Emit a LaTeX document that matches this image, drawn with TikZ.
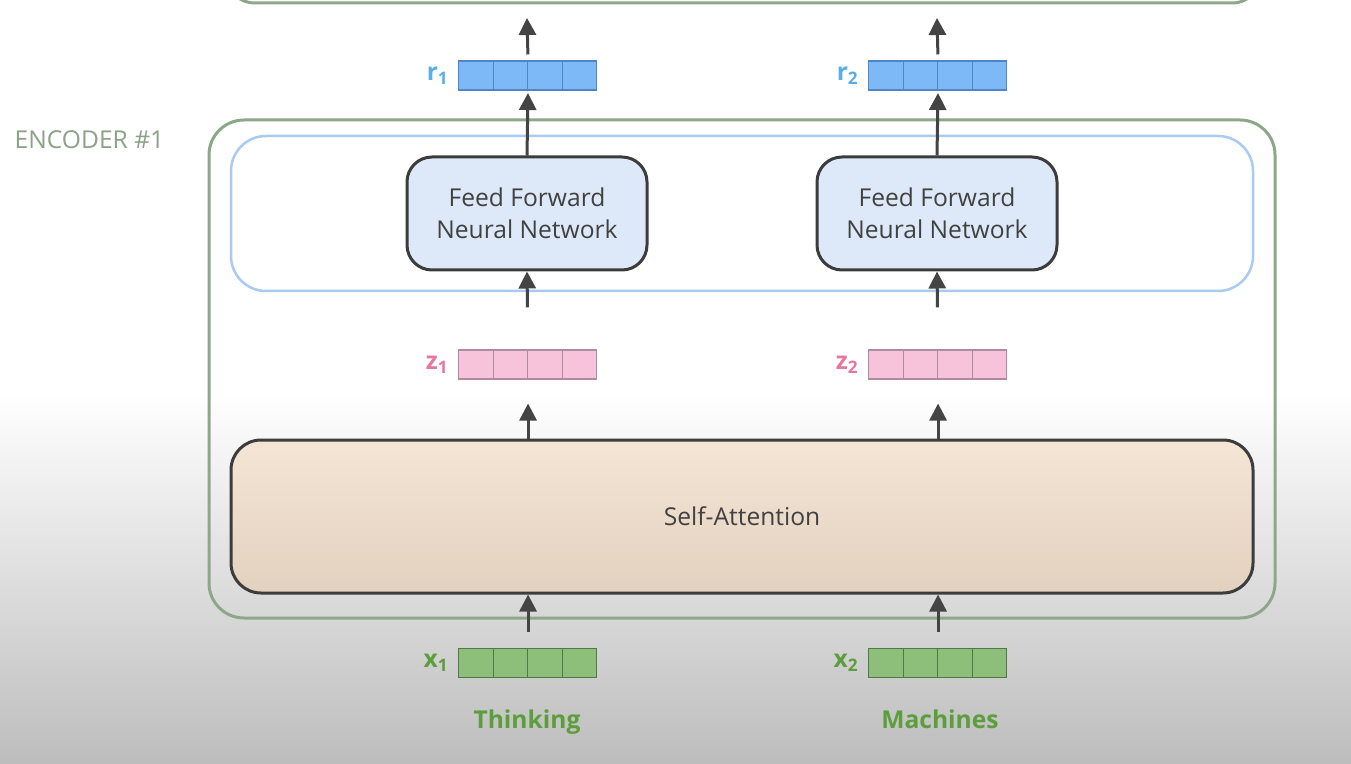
\documentclass[tikz,border=0pt]{standalone}
\usepackage{fontspec}
\setmainfont{Open Sans}
\usetikzlibrary{arrows.meta,positioning}
\definecolor{encgreen}{HTML}{8DA888}
\definecolor{ffnblue}{HTML}{A9CBF2}
\definecolor{ffnfill}{HTML}{DDE9F8}
\definecolor{boxdark}{HTML}{3C3C3C}
\definecolor{satop}{HTML}{F4E5D5}
\definecolor{sabot}{HTML}{E3D1BF}
\definecolor{arrowgray}{HTML}{444444}
\definecolor{textgray}{HTML}{414141}
\definecolor{bggray}{HTML}{BDBDBD}
\definecolor{rfill}{HTML}{7CB9F6}
\definecolor{rdraw}{HTML}{4F86C6}
\definecolor{rtext}{HTML}{5AAEE8}
\definecolor{zfill}{HTML}{F7C3DB}
\definecolor{zdraw}{HTML}{B08AA0}
\definecolor{ztext}{HTML}{E8779F}
\definecolor{xfill}{HTML}{8DBF7A}
\definecolor{xdraw}{HTML}{4F7A45}
\definecolor{xtext}{HTML}{5C9E3C}
\tikzset{
  cell/.style={draw, minimum width=6.9mm, minimum height=5.8mm,
               inner sep=0pt, anchor=west, line width=0.6pt},
  rcell/.style={cell, fill=rfill, draw=rdraw},
  zcell/.style={cell, fill=zfill, draw=zdraw},
  xcell/.style={cell, fill=xfill, draw=xdraw},
  veclabel/.style={inner sep=0pt, font=\fontsize{14}{17}\selectfont\bfseries},
  ffnbox/.style={draw=boxdark, fill=ffnfill, line width=0.06cm, rounded corners=0.5cm,
                 minimum width=4.8cm, minimum height=2.26cm, align=center,
                 text=textgray, font=\fontsize{14}{18}\selectfont},
  word/.style={text=xtext, anchor=base, font=\fontsize{14}{17}\selectfont\bfseries},
  flow/.style={-{Triangle[width=0.34cm,length=0.34cm]}, line width=0.06cm, draw=arrowgray},
}

\begin{document}
\begin{tikzpicture}
    \path[use as bounding box, clip] (0,0) rectangle (27.02,15.26);
    % screen background
    \fill[white] (0,0) rectangle (27.02,15.26);
    \shade[top color=white, bottom color=bggray] (0,0) rectangle (27.02,7.4);
    % next encoder (cut off at the top)
    \draw[encgreen, line width=0.06cm, rounded corners=0.6cm] (4.5,15.2) rectangle (25.24,17.0);
    % encoder frame
    \draw[encgreen, line width=0.06cm, rounded corners=0.7cm] (4.18,2.9) rectangle (25.5,12.86);
    \node[text=encgreen!85!gray, font=\fontsize{14}{17}\selectfont] (enclab) at (1.79,12.46) {ENCODER \#1};
    \draw[ffnblue, line width=0.05cm, rounded corners=0.7cm] (4.62,9.44) rectangle (25.06,12.54);
    % boxes
    \node[ffnbox] (ffn1) at (10.54,10.99) {Feed Forward\\Neural Network};
    \node[ffnbox] (ffn2) at (18.74,10.99) {Feed Forward\\Neural Network};
    \node[draw=boxdark, top color=satop, bottom color=sabot, line width=0.06cm,
          rounded corners=0.6cm, minimum width=20.44cm, minimum height=3.06cm,
          text=textgray, font=\fontsize{14}{17}\selectfont] (sa) at (14.84,4.93) {Self-Attention};
    % vectors
    \foreach \n/\s/\x/\y in {r1/rcell/9.16/13.75, r2/rcell/17.36/13.75,
                             z1/zcell/9.16/7.97, z2/zcell/17.36/7.97,
                             x1/xcell/9.16/2.0, x2/xcell/17.36/2.0} {
      \foreach \k in {0,...,3}
        \node[\s] (\n c\k) at ({\x+\k*0.69},\y) {};
    }
    \node[veclabel, text=rtext, left=0.18cm of r1c0] (r1lab) {r\textsubscript{1}};
    \node[veclabel, text=rtext, left=0.18cm of r2c0] (r2lab) {r\textsubscript{2}};
    \node[veclabel, text=ztext, left=0.18cm of z1c0] (z1lab) {z\textsubscript{1}};
    \node[veclabel, text=ztext, left=0.18cm of z2c0] (z2lab) {z\textsubscript{2}};
    \node[veclabel, text=xtext, left=0.18cm of x1c0] (x1lab) {x\textsubscript{1}};
    \node[veclabel, text=xtext, left=0.18cm of x2c0] (x2lab) {x\textsubscript{2}};
    % words
    \node[word] (word1) at (10.54,0.7) {Thinking};
    \node[word] (word2) at (18.8,0.7) {Machines};
    % arrows
    \coordinate (out1) at (10.54,14.9);
    \coordinate (out2) at (18.74,14.9);
    \draw[flow, shorten <=0.12cm] (r1c1.north east) -- (out1);
    \draw[flow, shorten <=0.12cm] (r2c1.north east) -- (out2);
    \draw[flow, shorten >=0.05cm] (ffn1.north) -- (r1c1.south east);
    \draw[flow, shorten >=0.05cm] (ffn2.north) -- (r2c1.south east);
    \draw[flow, shorten <=0.84cm] (z1c1.north east) -- (ffn1.south);
    \draw[flow, shorten <=0.84cm] (z2c1.north east) -- (ffn2.south);
    \draw[flow, shorten >=0.48cm] (sa.north -| z1c1.north east) -- (z1c1.south east);
    \draw[flow, shorten >=0.48cm] (sa.north -| z2c1.north east) -- (z2c1.south east);
    \draw[flow, shorten <=0.32cm] (x1c1.north east) -- (sa.south -| x1c1.north east);
    \draw[flow, shorten <=0.32cm] (x2c1.north east) -- (sa.south -| x2c1.north east);
\end{tikzpicture}
\end{document}
